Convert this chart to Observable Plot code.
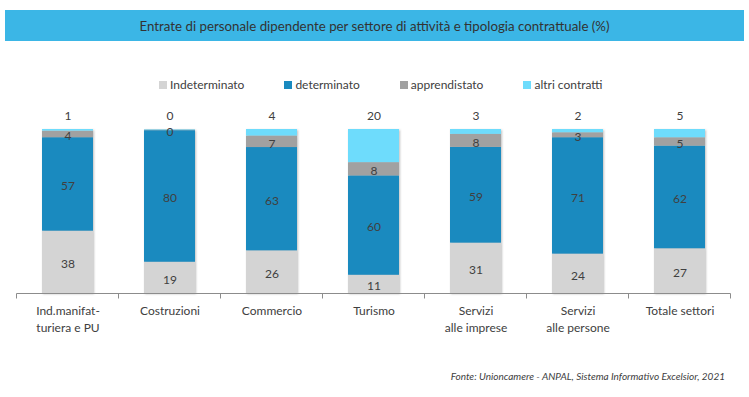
<!DOCTYPE html>
<html><head><meta charset="utf-8">
<script src="https://cdn.jsdelivr.net/npm/d3@7"></script>
<script src="https://cdn.jsdelivr.net/npm/@observablehq/plot@0.6"></script>
<style>
body{margin:0;background:#fff;font-family:Lato,"Open Sans",sans-serif;}
#wrap{width:749px;height:397px;position:relative;overflow:hidden;}
#title{position:absolute;left:5px;top:10px;width:739px;height:31px;background:#3BB6E6;color:#333;font-size:13.3px;display:flex;align-items:center;justify-content:center;}
#legend{position:absolute;top:77px;left:159px;display:flex;font-size:12px;color:#404040;line-height:16px;}
#legend .it{display:flex;align-items:center;margin-right:40px;}
#legend .sw{width:8px;height:8px;margin-right:3px;}
#chart{position:absolute;top:100px;left:0;}
#source{position:absolute;right:24px;top:370px;font-style:italic;font-size:10px;color:#404040;}
#chart g[aria-label="bar"]{filter:drop-shadow(1px 1px 1px rgba(0,0,0,0.25));}
</style></head>
<body><div id="wrap">
<div id="title">Entrate di personale dipendente per settore di attività e tipologia contrattuale (%)</div>
<div id="legend"></div>
<div id="chart"></div>
<div id="source">Fonte: Unioncamere - ANPAL, Sistema Informativo Excelsior, 2021</div>
</div>
<script>
const sectors = ["Ind.manifat-\nturiera e PU", "Costruzioni", "Commercio", "Turismo", "Servizi\nalle imprese", "Servizi\nalle persone", "Totale settori"];
const types = ["Indeterminato", "determinato", "apprendistato", "altri contratti"];
const indeterminato = [38, 19, 26, 11, 31, 24, 27];
const determinato = [57, 80, 63, 60, 59, 71, 62];
const apprendistato = [4, 0.4, 7, 8, 8, 3, 5];
const altri = [1, 0.3, 4, 20, 3, 2, 5];
const colors = ["#D4D4D4", "#1A8ABF", "#A1A1A1", "#6EDCFC"];

const series = [indeterminato, determinato, apprendistato, altri];
const rows = sectors.flatMap((s, i) => types.map((t, j) => ({sector: s, type: t, value: series[j][i]})));

// legend
const lg = d3.select("#legend");
types.forEach((t, j) => {
  const it = lg.append("div").attr("class", "it");
  it.append("div").attr("class", "sw").style("background", colors[j]);
  it.append("span").text(t);
});

const stackOpts = {x: "sector", y: "value", z: "type", offset: "normalize", order: types};
const labelColor = "#404040";

const chart = Plot.plot({
  width: 749, height: 245,
  marginTop: 29, marginBottom: 52, marginLeft: 14, marginRight: 16,
  style: {fontFamily: "Lato, 'Open Sans', sans-serif", fontSize: "12px", color: labelColor, background: "transparent"},
  x: {domain: sectors, paddingInner: 0.5, paddingOuter: 0.25},
  y: {domain: [0, 1], axis: null},
  color: {domain: types, range: colors},
  marks: [
    Plot.barY(rows, Plot.stackY({...stackOpts, fill: "type"})),
    Plot.text(rows, Plot.stackY({...stackOpts, text: d => d.type === "altri contratti" ? null : String(Math.round(d.value)), fill: labelColor, fontSize: 12, dy: 2})),
    Plot.text(rows, Plot.stackY2({...stackOpts, text: d => d.type === "altri contratti" ? String(Math.round(d.value)) : null, fill: labelColor, fontSize: 12, dy: -13})),
    Plot.axisX({label: null, tickSize: 0, tickPadding: 10, lineHeight: 1.4, fontSize: 12, fill: labelColor}),
    (index, scales, values, dim) => {
      const x = scales.x;
      const step = x.step(), bw = x.bandwidth();
      const gap = (step - bw) / 2;
      const bounds = sectors.map(s => x(s) - gap).concat([x(sectors[sectors.length - 1]) + bw + gap]);
      const g = d3.create("svg:g").attr("stroke", "#8c8c8c");
      const y0 = scales.y(0) + 0.5;
      g.append("line")
        .attr("x1", bounds[0]).attr("x2", bounds[bounds.length - 1])
        .attr("y1", y0).attr("y2", y0);
      g.selectAll("line.t").data(bounds).join("line").attr("class", "t")
        .attr("x1", d => d).attr("x2", d => d)
        .attr("y1", y0).attr("y2", y0 + 5);
      return g.node();
    }
  ]
});
document.getElementById("chart").appendChild(chart);
</script>
</body></html>
